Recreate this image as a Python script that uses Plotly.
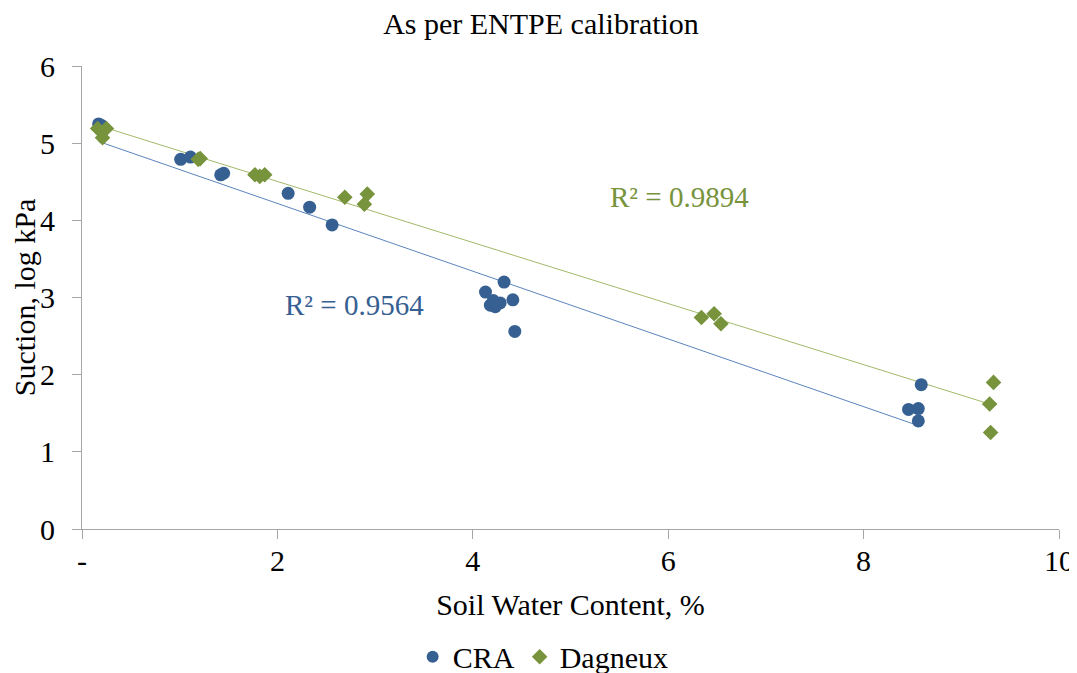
import numpy as np
import plotly.graph_objects as go

cra_x = [0.17, 0.20, 1.01, 1.11, 1.42, 1.45, 2.11, 2.33, 2.56,
         4.13, 4.32, 4.41, 4.18, 4.23, 4.28, 4.21, 4.43,
         8.59, 8.46, 8.56, 8.56]
cra_y = [5.25, 5.23, 4.79, 4.82, 4.59, 4.61, 4.35, 4.17, 3.94,
         3.07, 3.20, 2.97, 2.90, 2.88, 2.93, 2.96, 2.56,
         1.87, 1.55, 1.56, 1.40]

dag_x = [0.16, 0.25, 0.21, 1.19, 1.21, 1.77, 1.82, 1.87,
         2.69, 2.92, 2.89, 6.34, 6.47, 6.54, 9.33, 9.29, 9.30]
dag_y = [5.19, 5.19, 5.07, 4.79, 4.80, 4.59, 4.57, 4.59,
         4.30, 4.34, 4.21, 2.74, 2.79, 2.66, 1.90, 1.62, 1.25]

x_tickvals = [0, 2, 4, 6, 8, 10]
x_ticktext = ["-", "2", "4", "6", "8", "10"]
y_tickvals = [0, 1, 2, 3, 4, 5, 6]

FONT = "Liberation Serif"
FS = 30
BLUE = "#376092"
GREEN = "#77933C"
BLUE_LINE = "#5B84BC"
GREEN_LINE = "#A3B96A"


def fit(xs, ys):
    xs = np.array(xs); ys = np.array(ys)
    m, b = np.polyfit(xs, ys, 1)
    xx = np.array([xs.min(), xs.max()])
    pred = m * xs + b
    r2 = 1 - np.sum((ys - pred) ** 2) / np.sum((ys - ys.mean()) ** 2)
    return xx, m * xx + b, r2


fig = go.Figure()

cx, cy, cr2 = fit(cra_x, cra_y)
dx, dy, dr2 = fit(dag_x, dag_y)

fig.add_trace(go.Scatter(x=cx, y=cy, mode="lines", line=dict(color=BLUE_LINE, width=1),
                         showlegend=False, hoverinfo="skip"))
fig.add_trace(go.Scatter(x=dx, y=dy, mode="lines", line=dict(color=GREEN_LINE, width=1),
                         showlegend=False, hoverinfo="skip"))

fig.add_trace(go.Scatter(x=cra_x, y=cra_y, mode="markers", name="CRA",
                         marker=dict(symbol="circle", size=13, color=BLUE)))
fig.add_trace(go.Scatter(x=dag_x, y=dag_y, mode="markers", name="Dagneux",
                         marker=dict(symbol="diamond", size=12, color=GREEN)))

fig.add_annotation(x=6.12, y=4.30, text="R² = 0.9894", showarrow=False,
                   font=dict(family=FONT, size=29, color=GREEN))
fig.add_annotation(x=2.79, y=2.90, text="R² = 0.9564", showarrow=False,
                   font=dict(family=FONT, size=29, color=BLUE))

axis_common = dict(showgrid=False, zeroline=False, showline=True, linecolor="#A6A6A6",
                   linewidth=1, ticks="outside", tickcolor="#A6A6A6", ticklen=9,
                   automargin=False,
                   tickfont=dict(family=FONT, size=FS, color="#000"))

# page body has an 8px margin; figure is sized/offset accordingly
fig.update_layout(
    width=1069, height=665,
    margin=dict(l=74, r=18, t=58, b=144, autoexpand=False),
    paper_bgcolor="white", plot_bgcolor="white",
    font=dict(family=FONT, color="#000"),
    title=dict(text="As per ENTPE calibration", x=533 / 1069, xref="container", xanchor="center",
               y=1 - 15 / 665, yref="container", yanchor="middle",
               font=dict(family=FONT, size=FS, color="#000")),
    xaxis=dict(range=[0, 10], tickvals=x_tickvals, ticktext=x_ticktext,
               title=dict(text="Soil Water Content, %", font=dict(family=FONT, size=FS), standoff=17),
               ticklabelstandoff=-4, **axis_common),
    yaxis=dict(range=[0, 6], tickvals=y_tickvals,
               title=dict(text="Suction, log kPa", font=dict(family=FONT, size=FS), standoff=0),
               ticklabelstandoff=11, **axis_common),
    legend=dict(orientation="h", x=0.472, xanchor="center", y=-0.276, yanchor="middle",
                font=dict(family=FONT, size=FS), itemsizing="constant", itemwidth=30),
    showlegend=True,
)

fig.write_html("out.html")
